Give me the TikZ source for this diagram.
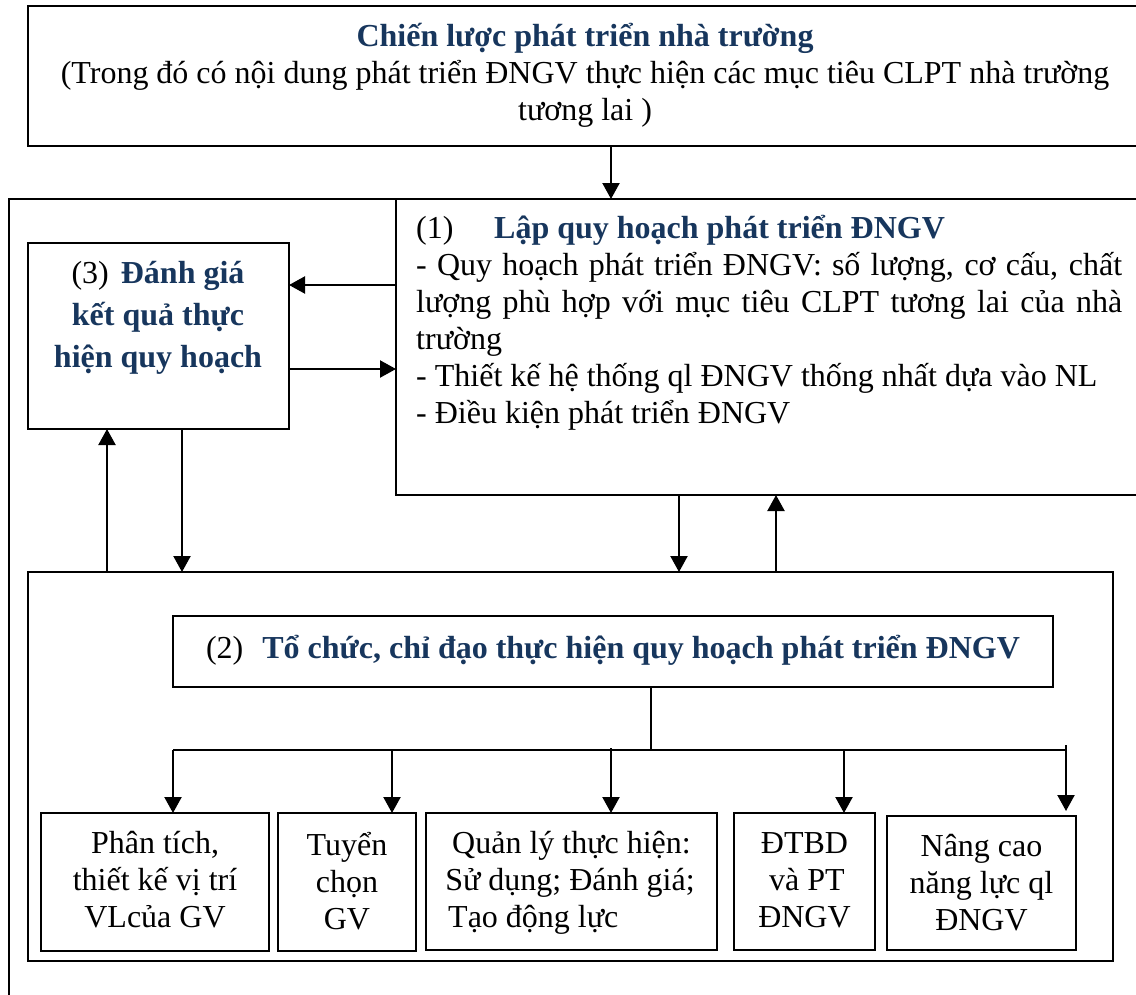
\documentclass[tikz,border=0pt]{standalone}
\usepackage{fontspec}
\setmainfont{Liberation Serif}
\usetikzlibrary{arrows.meta}
\definecolor{navy}{HTML}{17365D}
\begin{document}
\begin{tikzpicture}[x=1pt,y=-1pt,
  box/.style={draw, line width=1.6pt, inner sep=0pt, outer sep=0pt, anchor=north west},
  txt/.style={inner sep=0pt, anchor=base, font=\fontsize{32}{37}\selectfont},
  hd/.style={txt, font=\fontsize{32}{37}\selectfont\bfseries, text=navy},
  arr/.style={line width=2.2pt, -{Triangle[width=17pt,length=16pt]}},
  ln/.style={line width=1.8pt}]
\clip (0,0) rectangle (1136,994);
\fill[white] (0,0) rectangle (1136,994);
% boxes
\node[box, minimum width=1128pt, minimum height=140pt] (top) at (28,6) {};
\node[box, minimum width=1150pt, minimum height=820pt] (outer) at (9,199) {};
\node[box, minimum width=760pt, minimum height=296pt] (b1) at (396,199) {};
\node[box, minimum width=261pt, minimum height=186pt] (b3) at (28,243) {};
\node[box, minimum width=1085pt, minimum height=389pt] (b2) at (28,572) {};
\node[box, minimum width=880pt, minimum height=71pt] (ttl) at (173,616) {};
\node[box, minimum width=228pt, minimum height=138pt] (ba) at (41,813) {};
\node[box, minimum width=138pt, minimum height=138pt] (bb) at (278,813) {};
\node[box, minimum width=291pt, minimum height=137pt] (bc) at (426,813) {};
\node[box, minimum width=141pt, minimum height=137pt] (bd) at (734,813) {};
\node[box, minimum width=189pt, minimum height=134pt] (be) at (887,816) {};
% texts top
\node[hd] (t0a) at (585,46) {Chiến lược phát triển nhà trường};
\node[txt] (t0b) at (585,83) {(Trong đó có nội dung phát triển ĐNGV thực hiện các mục tiêu CLPT nhà trường};
\node[txt] (t0c) at (585,120) {tương lai )};
% box 1
\node[txt, anchor=base west] (t1a) at (416,238) {\makebox[78pt][l]{(1)}\textcolor{navy}{\bfseries Lập quy hoạch phát triển ĐNGV}};
\node[txt, anchor=base west] (t1b) at (416,275) {\makebox[706pt][s]{- Quy hoạch phát triển ĐNGV: số lượng, cơ cấu, chất}};
\node[txt, anchor=base west] (t1c) at (416,312) {\makebox[706pt][s]{lượng phù hợp với mục tiêu CLPT tương lai của nhà}};
\node[txt, anchor=base west] (t1d) at (416,349) {trường};
\node[txt, anchor=base west] (t1e) at (416,386) {- Thiết kế hệ thống ql ĐNGV thống nhất dựa vào NL};
\node[txt, anchor=base west] (t1f) at (416,423) {- Điều kiện phát triển ĐNGV};
% box 3
\node[txt] (t3a) at (158,283) {(3)\hspace{12pt}\textcolor{navy}{\bfseries Đánh giá}};
\node[hd] (t3b) at (158,325) {kết quả thực};
\node[hd] (t3c) at (158,367) {hiện quy hoạch};
% box 2 title
\node[txt] (t2) at (613,658) {(2)\hspace{19pt}\textcolor{navy}{\bfseries Tổ chức, chỉ đạo thực hiện quy hoạch phát triển ĐNGV}};
% bottom boxes
\node[txt] (ta1) at (155,853) {Phân tích,};
\node[txt] (ta2) at (155,890) {thiết kế vị trí};
\node[txt] (ta3) at (155,927) {VLcủa GV};
\node[txt] (tb1) at (347,855) {Tuyển};
\node[txt] (tb2) at (347,892) {chọn};
\node[txt] (tb3) at (347,929) {GV};
\node[txt] (tc1) at (571.5,853) {Quản lý thực hiện:};
\node[txt] (tc2) at (570,890) {Sử dụng; Đánh giá;};
\node[txt, anchor=base west] (tc3) at (448,927) {Tạo động lực};
\node[txt] (td1) at (804.5,853) {ĐTBD};
\node[txt] (td2) at (807,890) {và PT};
\node[txt] (td3) at (804.5,927) {ĐNGV};
\node[txt] (te1) at (981.5,856) {Nâng cao};
\node[txt] (te2) at (981.5,893) {năng lực ql};
\node[txt] (te3) at (981.5,930) {ĐNGV};
% arrows
\draw[arr] (top.south -| 611,0) -- (b1.north -| 611,0);
\draw[arr] (b1.west |- 0,285) -- (b3.east |- 0,285);
\draw[arr] (b3.east |- 0,369) -- (b1.west |- 0,369);
\draw[arr] (b2.north -| 107,0) -- (b3.south -| 107,0);
\draw[arr] (b3.south -| 182,0) -- (b2.north -| 182,0);
\draw[arr] (b1.south -| 679,0) -- (b2.north -| 679,0);
\draw[arr] (b2.north -| 776,0) -- (b1.south -| 776,0);
% tree
\coordinate (bus) at (651,750);
\coordinate (busL) at (173,750);
\coordinate (busR) at (1066,750);
\coordinate (j2) at (392,750);
\coordinate (j3) at (611,748);
\coordinate (j4) at (844,750);
\draw[ln] (ttl.south -| bus) -- (bus);
\draw[ln] (busL) -- (busR);
\draw[arr] (busL) -- (ba.north -| busL);
\draw[arr] (j2) -- (bb.north -| j2);
\draw[arr] (j3) -- (bc.north -| j3);
\draw[arr] (j4) -- (bd.north -| j4);
\draw[arr, shorten >=5pt] (1066,745) -- (be.north -| busR);
\end{tikzpicture}
\end{document}
